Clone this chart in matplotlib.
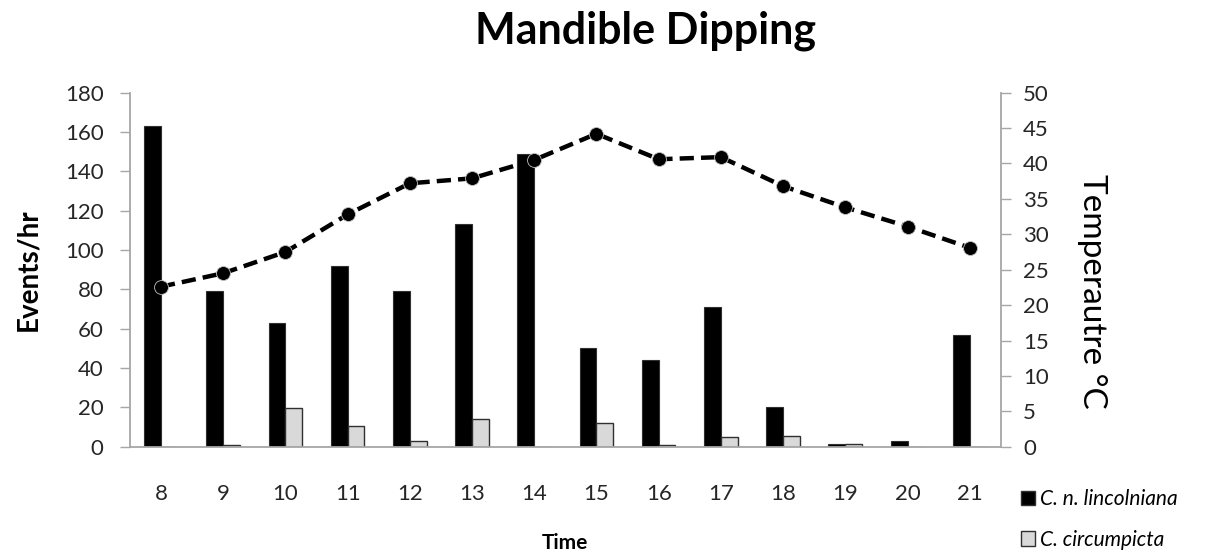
import numpy as np
import matplotlib.pyplot as plt
from matplotlib.patches import Patch

plt.rcParams['font.family'] = ['Lato', 'DejaVu Sans']

hours = [8, 9, 10, 11, 12, 13, 14, 15, 16, 17, 18, 19, 20, 21]
lincolniana = [163, 79, 63, 92, 79, 113, 149, 50, 44, 71, 20, 1.5, 3, 57]
circumpicta = [0, 1, 19.5, 10.5, 3, 14, 0, 12, 0.7, 5, 5.5, 1.5, 0, 0]
temperature = [22.6, 24.5, 27.5, 32.8, 37.2, 37.9, 40.5, 44.2, 40.6, 40.9, 36.8, 33.8, 31.1, 28.1]

axis_grey = '#a6a6a6'

fig = plt.figure(figsize=(12.25, 5.6), dpi=100)
ax = fig.add_axes([0.106, 0.2023, 0.711, 0.6322])
ax2 = ax.twinx()

x = np.arange(len(hours))
w = 0.27
ax.bar(x - w/2, lincolniana, w, color='black', edgecolor='#303030', linewidth=0.8, zorder=2)
ax.bar(x + w/2, circumpicta, w, color='#d9d9d9', edgecolor='#303030', linewidth=1.0, zorder=2)

ax2.plot(x, temperature, color='black', linestyle=(0, (3.2, 1.6)), linewidth=3.2,
         marker='o', markersize=10, markerfacecolor='black', markeredgecolor='#c0c0c0',
         markeredgewidth=0.6)

ax.set_xlim(-0.5, len(hours) - 0.5)
ax.set_ylim(0, 180)
ax.set_yticks(np.arange(0, 181, 20))
ax2.set_ylim(0, 50)
ax2.set_yticks(np.arange(0, 51, 5))
ax.set_xticks(x)
ax.set_xticklabels(hours)

for a in (ax, ax2):
    for s in a.spines.values():
        s.set_visible(False)
    a.tick_params(labelsize=16, colors='#262626', length=7, width=1, color=axis_grey)
ax.spines['left'].set_visible(True)
ax.spines['bottom'].set_visible(True)
ax2.spines['right'].set_visible(True)
for s in (ax.spines['left'], ax.spines['bottom'], ax2.spines['right']):
    s.set_color(axis_grey)
    s.set_linewidth(1.3)
ax.tick_params(axis='x', length=0, pad=27)
ax.tick_params(axis='y', pad=12)
ax2.tick_params(axis='y', pad=9)

ax.set_ylabel('Events/hr', fontsize=20, fontweight='bold', va='center')
ax.yaxis.set_label_coords(-0.117, 0.5)
ax2.set_ylabel('Temperautre °C', fontsize=24, rotation=-90, va='center')
ax2.yaxis.set_label_coords(1.105, 0.44)
ax.set_xlabel('Time', fontsize=15, fontweight='bold', va='center')
ax.xaxis.set_label_coords(0.5, -0.272)
fig.text(0.527, 0.922, 'Mandible Dipping', fontsize=31, fontweight='bold',
         ha='center', va='baseline')

handles = [Patch(facecolor='black', edgecolor='#303030', label='C. n. lincolniana'),
           Patch(facecolor='#d9d9d9', edgecolor='#303030', label='C. circumpicta')]
leg = fig.legend(handles=handles, loc='upper left', bbox_to_anchor=(0.818, 0.16),
                 frameon=False, handlelength=0.7, handleheight=0.7,
                 handletextpad=0.2, labelspacing=1.0, prop={'style': 'italic', 'size': 15})

fig.savefig('out.png', dpi=100)
